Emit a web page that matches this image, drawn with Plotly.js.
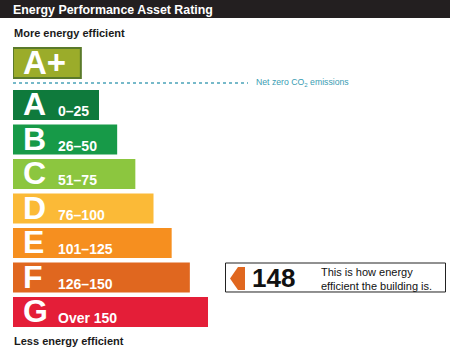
<!DOCTYPE html>
<html>
<head>
<meta charset="utf-8">
<script src="https://cdn.plot.ly/plotly-3.0.1.min.js"></script>
<style>html,body{margin:0;padding:0;background:#fff;}#chart{width:450px;height:351px;}</style>
</head>
<body>
<div id="chart"></div>
<script>
// ---- data ----
const bands = ['A', 'B', 'C', 'D', 'E', 'F', 'G'];
const bandRanges = ['0–25', '26–50', '51–75', '76–100', '101–125', '126–150', 'Over 150'];
const bandLimits = [25, 50, 75, 100, 125, 150, 175];
const bandColors = ['#0f7a3c', '#179a48', '#8cc63f', '#fbba37', '#f68f1f', '#e0671f', '#e41e38'];
const topBand = 'A+';
const topBandLimit = 0;
const topBandColor = '#9bac2a';
const rating = 148;
const ratingBand = 'F';
const titleText = 'Energy Performance Asset Rating';
const moreText = 'More energy efficient';
const lessText = 'Less energy efficient';
const netZeroText = 'Net zero CO<sub>2</sub> emissions';
const ratingNote = 'This is how energy<br>efficient the building is.';

// ---- layout helpers ----
const W = 450, H = 351;
const px = v => v / W;
const py = v => 1 - v / H;
const FONT = 'Liberation Sans, Arial, sans-serif';
const BASE = -93.35;

const traces = [
  {
    type: 'bar', orientation: 'h',
    y: bands, x: bandLimits.map(v => v - BASE), base: BASE,
    marker: {color: bandColors, line: {width: 0}},
    xaxis: 'x', yaxis: 'y', hoverinfo: 'skip', showlegend: false
  },
  {
    type: 'bar', orientation: 'h',
    y: [topBand], x: [topBandLimit - BASE], base: BASE,
    marker: {color: topBandColor, line: {width: 2, color: '#5a7a2a'}},
    xaxis: 'x', yaxis: 'y2', hoverinfo: 'skip', showlegend: false
  }
];

const annotations = [];
bands.forEach((b, i) => {
  annotations.push({
    xref: 'paper', yref: 'y', x: px(21), y: b, xanchor: 'left', yanchor: 'middle',
    text: b, showarrow: false, yshift: 1,
    font: {family: FONT, size: 32, color: '#ffffff', weight: 700}
  });
  annotations.push({
    xref: 'paper', yref: 'y', x: px(56), y: b, xanchor: 'left', yanchor: 'middle',
    text: bandRanges[i], showarrow: false, yshift: -6,
    font: {family: FONT, size: 14, color: '#ffffff', weight: 700}
  });
});
annotations.push({
  xref: 'paper', yref: 'y2', x: px(21), y: topBand, xanchor: 'left', yanchor: 'middle',
  text: topBand, showarrow: false, yshift: 0,
  font: {family: FONT, size: 33, color: '#ffffff', weight: 700}
});
annotations.push({
  xref: 'paper', yref: 'paper', x: px(12), y: py(33), xanchor: 'left', yanchor: 'middle',
  text: moreText, showarrow: false,
  font: {family: FONT, size: 11, color: '#1a1a1a', weight: 700}
});
annotations.push({
  xref: 'paper', yref: 'paper', x: px(12), y: py(341), xanchor: 'left', yanchor: 'middle',
  text: lessText, showarrow: false,
  font: {family: FONT, size: 11, color: '#1a1a1a', weight: 700}
});
annotations.push({
  xref: 'paper', yref: 'paper', x: px(254), y: py(83), xanchor: 'left', yanchor: 'middle',
  text: netZeroText, showarrow: false,
  font: {family: FONT, size: 8.7, color: '#3a9db3'}
});
annotations.push({
  xref: 'paper', yref: 'y', x: px(250), y: ratingBand, xanchor: 'left', yanchor: 'middle',
  text: String(rating), showarrow: false, yshift: 0,
  font: {family: FONT, size: 26, color: '#111111', weight: 700}
});
annotations.push({
  xref: 'paper', yref: 'y', x: px(319), y: ratingBand, xanchor: 'left', yanchor: 'middle',
  text: ratingNote, showarrow: false, yshift: -1, align: 'left',
  font: {family: FONT, size: 11, color: '#111111'}
});

const ratingIdx = bands.indexOf(ratingBand);
const shapes = [
  {type: 'rect', xref: 'paper', yref: 'paper', x0: 0, x1: 1, y0: py(18), y1: 1,
   fillcolor: '#231f20', line: {width: 0}, layer: 'below'},
  {type: 'line', xref: 'paper', yref: 'paper', x0: px(13), x1: px(248), y0: py(83), y1: py(83),
   line: {color: '#4aa3b8', width: 1.5, dash: 'dot'}},
  {type: 'rect', xref: 'paper', yref: 'y', x0: px(225.5), x1: px(445.5),
   y0: ratingIdx - 0.42, y1: ratingIdx + 0.42,
   fillcolor: '#ffffff', line: {color: '#222222', width: 1}},
  {type: 'path', xref: 'paper', yref: 'paper',
   path: `M ${px(230)} ${py(278.5)} L ${px(238)} ${py(267)} L ${px(245)} ${py(267)} L ${px(245)} ${py(290)} L ${px(238)} ${py(290)} Z`,
   fillcolor: bandColors[ratingIdx], line: {width: 0}}
];

const layout = {
  width: W, height: H,
  margin: {l: 0, r: 0, t: 0, b: 0},
  paper_bgcolor: '#ffffff', plot_bgcolor: 'rgba(0,0,0,0)',
  font: {family: FONT},
  title: {text: titleText, x: px(13), xanchor: 'left', xref: 'paper',
          y: 1 - 9.5 / H, yanchor: 'middle', yref: 'container',
          font: {family: FONT, size: 12.4, color: '#ffffff', weight: 700}},
  bargap: 0.13,
  xaxis: {domain: [px(13), 1], range: [BASE, BASE + 437 / 0.7267], visible: false, fixedrange: true},
  yaxis: {domain: [py(329.25), py(87.75)], type: 'category', categoryarray: bands,
          range: [bands.length - 0.5, -0.5], visible: false, fixedrange: true},
  yaxis2: {domain: [py(80.25), py(45.75)], type: 'category', categoryarray: [topBand],
           range: [0.5, -0.5], visible: false, fixedrange: true, anchor: 'x'},
  showlegend: false,
  annotations: annotations,
  shapes: shapes
};

Plotly.newPlot('chart', traces, layout, {staticPlot: true, displayModeBar: false});
</script>
</body>
</html>
